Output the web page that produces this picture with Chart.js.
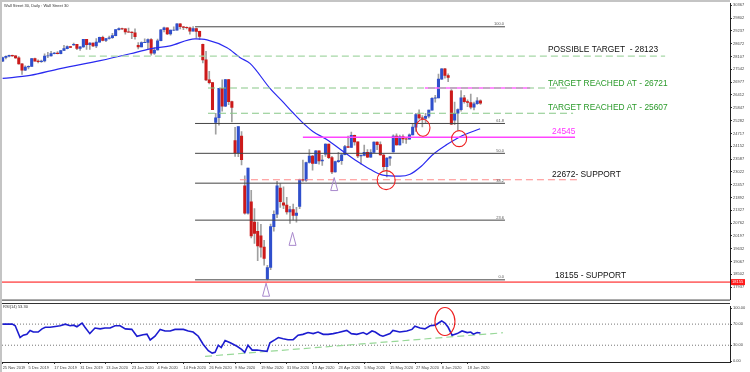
<!DOCTYPE html>
<html>
<head>
<meta charset="utf-8">
<script src="https://cdn.jsdelivr.net/npm/chart.js@4.4.1/dist/chart.umd.min.js"></script>
<style>
  body { margin: 0; background: #fff; width: 750px; height: 372px; overflow: hidden; position: relative; }
  #main { position: absolute; left: 0; top: 0; }
  #rsi { position: absolute; left: 0; top: 303px; }
  .edge { position: absolute; background: #c4c4c4; }
</style>
</head>
<body>
<canvas id="main" width="750" height="303"></canvas>
<canvas id="rsi" width="750" height="69"></canvas>
<div class="edge" style="left:0;top:0;width:730px;height:2px"></div>
<div class="edge" style="left:0;top:0;width:2px;height:372px"></div>
<script>
// daily candles, 25 Nov 2019 .. 24 Jun 2020 (bar index = position on the x axis)
const opens = [27900,28066,28121,28164,28140,28051,27783,27502,27649,27677,28015,27909,27881,27911,28132,28135,28235,28267,28239,28376,
  28455,28551,28620,28645,28462,28538,28868,28634,28703,28583,28745,28956,28823,28907,28939,29030,29297,29348,29330,29196,
  29186,29160,28600,28535,28722,28734,28859,28256,28399,28807,29290,29379,29102,29276,29276,29551,29423,29398,29380,29232,
  29348,29219,28650,27960,27081,26957,25200,25409,26703,25917,27091,26121,24400,23851,24600,22400,21200,21700,20800,20400,
  20200,19700,18300,18800,20600,21150,22300,21650,21550,21250,21350,21100,21500,22680,22654,23434,23719,23390,23950,23505,
  23800,24242,23650,23019,23475,23515,23775,24134,24101,24634,24346,23724,23750,23883,23665,23875,24331,24222,23764,23248,
  23625,23900,24597,24207,24576,24475,24465,24650,24995,25548,25401,25383,25475,25742,26270,26282,27111,27572,27272,26600,
  25300,25606,25763,26290,26120,26080,25871,26025,26156];
const highs = [28090,28140,28175,28170,28150,28110,27800,27700,27700,28030,28040,27960,27950,28230,28290,28340,28300,28330,28380,28600,
  28580,28560,28700,28650,28550,28872,28870,28720,28710,28900,28970,29010,28910,29010,29130,29300,29375,29370,29340,29370,
  29200,29330,28720,28760,28890,28890,28900,28500,28880,29300,29410,29380,29280,29415,29568,29560,29440,29420,29410,29430,
  29370,29230,28660,28340,27460,26970,25600,26710,27080,27100,27100,26140,24990,25020,24800,22840,23190,22200,21400,20800,
  20700,20000,18900,20720,21300,22600,22500,22360,21900,21500,21600,21450,22700,23540,23450,24000,23750,23960,23950,23750,
  24260,24250,23700,23500,23880,23800,24190,24600,24770,24640,24340,23770,24200,24000,24000,24340,24350,24350,23800,23650,
  23700,24650,24700,24640,24650,24500,24700,25150,25600,25760,25500,25600,25750,26300,26400,27340,27580,27590,27350,26650,
  26100,25800,26610,26400,26200,26450,26100,26300,26200];
const lows = [27880,28000,28090,28110,28030,27770,27325,27480,27560,27670,27900,27830,27850,27870,28060,28130,28220,28220,28220,28370,
  28450,28500,28600,28410,28380,28510,28420,28420,28540,28500,28740,28800,28760,28880,28910,29020,29270,29300,29100,29170,
  28900,28870,28440,28530,28720,28440,28170,28200,28390,28800,29200,29070,29050,29250,29270,29330,29300,29330,29100,29230,
  28920,28850,27830,27040,26900,25760,24680,25080,25700,25900,25990,25220,23700,23690,23330,21150,21150,20110,19860,19100,
  19250,18900,18255,18700,20400,21000,21450,21400,21150,20740,20900,20800,21400,22600,22600,23400,23100,23380,23360,23300,
  23700,23600,22940,23010,23440,23350,23770,24100,24100,24200,23650,23360,23720,23650,23660,23870,24000,23760,23100,22800,
  23300,23890,24200,24200,24300,24270,24460,24650,24800,25350,25000,25190,25400,25740,26100,26280,27100,27150,27000,25100,
  25100,24850,25700,26050,25900,25800,25750,26000,26000];
const closes = [28066,28121,28164,28140,28051,27783,27502,27649,27677,28015,27909,27881,27911,28132,28135,28235,28267,28239,28376,28455,
  28551,28515,28645,28462,28538,28868,28634,28703,28583,28745,28956,28823,28907,28939,29030,29297,29348,29330,29196,29186,
  29160,28989,28535,28722,28734,28859,28256,28399,28807,29290,29379,29102,29276,29276,29551,29423,29398,29380,29232,29348,
  29219,28992,27960,27081,26957,25766,25409,26703,25917,27091,26121,25865,23851,25018,23553,21200,23186,20189,20300,19750,
  19700,19200,18800,20600,21150,22400,21700,21550,21250,21350,21100,21200,22680,22654,23434,23719,23390,23950,23505,23538,
  24242,23650,23019,23475,23515,23775,24134,24101,24634,24346,23724,23750,23883,23665,23875,24331,24222,23764,23248,23625,
  23685,24597,24207,24576,24475,24465,24650,24995,25548,25401,25383,25475,25742,26270,26282,27111,27572,27272,27190,25128,
  25606,25763,26290,26120,26080,25871,26025,26156,26050];

// moving average
const maIdx = [0,8.5,17.8,30.2,39.5,45.7,51.9,59.6,63.3,69.5,73.6,76.7,82.8,86.6,90,93,96.2,100.5,105.5,109.8,113.8,117.8,123.1,126.2,129.3,133.3,137.6,141.7,147.9];
const maVal = [27143,27274,27579,27927,28232,28450,28581,28886,28842,28494,28058,27796,26707,26141,25618,25182,24790,24441,23918,23483,23134,22873,22829,22917,23222,23788,24224,24572,24921];

// RSI(14)
const rsiIdx = [0,3,3.9,5.4,6.4,7.5,8.5,9.5,11,12.2,13.2,14.7,16.3,17.8,19.4,20.9,22,23,24.6,25.5,27,28.6,30.2,31.7,33.3,34.8,36.4,38,40,41.6,
  43.5,44.7,45.7,47.2,48.8,50.3,51.9,53.4,56,57.5,59,60.6,62.1,63.7,64.9,65.8,66.8,67.7,68.9,70.5,72.6,74,75,76,77.3,78.8,80.3,81.9,82.8,84.4,
  85.4,86.9,88.4,90,91.5,93,94.6,96.2,97.7,99.3,100.8,102.4,104,106.6,108,109.7,111.7,112.8,114.4,115.4,116.9,117.8,120,120.9,123,125.2,126.8,127.7,129.3,130.8,
  132.4,134,135.5,136,137,138,139.2,140.8,142.3,143.9,145,145.8,147,148];
const rsiVal = [70,70,67,44.6,49,50.6,58,55,55,61,64,64,65.5,67,70,67,68,65,72,64,52,62.5,61,62.5,62.5,67,67,61,60,47,
  50,51,40,47,60,57,57,60,60,57,55,47,32,19.6,15,16.5,30,25.6,38.7,34.5,28,22,16.5,30,20.8,20.8,19.6,18.5,34.5,40.5,
  44.6,42.3,40.5,40.5,49,50.6,54,52,55,50.6,50.6,52,54,58,52,50.6,54,50.6,57,55,49,47,52,58,55,57,60,66,62.5,61,
  67,68,74,76,72,64,49,52,57,54,55,51,54,53.3];
const rsiTrend = [{x: 62.7, y: 8.9}, {x: 155, y: 53.6}];

// axes
const priceTicks = [30367,29802,29237,28672,28107,27542,26977,26412,25847,25282,24717,24152,23587,23022,22457,21892,21327,20762,20197,19632,19067,18502,17937];
const rsiTicks = [0, 30, 70, 100];
const dateTickIdx = [0,8,16,24,32,40,48,56,64,72,80,88,96,104,112,120,128,136,144];
const dateTicks = ['25 Nov 2019','5 Dec 2019','17 Dec 2019','31 Dec 2019','13 Jan 2020','23 Jan 2020','4 Feb 2020','14 Feb 2020',
  '26 Feb 2020','9 Mar 2020','19 Mar 2020','31 Mar 2020','13 Apr 2020','23 Apr 2020','5 May 2020','15 May 2020','27 May 2020','8 Jun 2020','18 Jun 2020'];

// drawn levels
const fibVals = [29422, 25156, 23838, 22521, 20890, 18255];
const fibNames = ['100.0', '61.8', '50.0', '38.2', '23.6', '0.0'];
const fibFrom = 59.6, fibTo = 155.6;
const levelVals = [28123, 26721, 25607, 24545, 22672, 18155];
const levelTexts = ['POSSIBLE TARGET  - 28123', 'TARGET REACHED AT - 26721', 'TARGET REACHED AT - 25607', '24545', '22672- SUPPORT', '18155 - SUPPORT'];

const X_MIN = -0.2, X_MAX = 225.3;
const FONT = '"Liberation Sans", Arial, sans-serif';
Chart.defaults.font.family = FONT;
Chart.defaults.animation = false;

function hline(v, x0, x1, color, width, dash) {
  return {
    type: 'line', data: [{x: x0, y: v}, {x: x1, y: v}],
    borderColor: color, borderWidth: width, borderDash: dash || [],
    pointRadius: 0, order: 1
  };
}

/* ---------- price chart ---------- */
const mainDraw = {
  id: 'mainDraw',
  afterDatasetsDraw(chart) {
    const ctx = chart.ctx, xs = chart.scales.x, ys = chart.scales.y, a = chart.chartArea;
    ctx.save();

    // fib level names
    ctx.font = '4px ' + FONT;
    ctx.fillStyle = '#555';
    ctx.textAlign = 'right';
    ctx.textBaseline = 'bottom';
    fibVals.forEach((v, k) => ctx.fillText(fibNames[k], xs.getPixelForValue(fibTo) - 1, ys.getPixelForValue(v) - 0.5));

    // level notes
    const notes = [
      {i: 168.9, lift: 4.5, color: '#111'},
      {i: 168.9, lift: 1.8, color: '#2a9a2a'},
      {i: 168.9, lift: 3.3, color: '#2a9a2a'},
      {i: 170.2, lift: 3.4, color: '#ff33ff'},
      {i: 170.2, lift: 2.8, color: '#111'},
      {i: 171.1, lift: 4.5, color: '#111'}
    ];
    ctx.font = '8.4px ' + FONT;
    ctx.textAlign = 'left';
    ctx.textBaseline = 'alphabetic';
    notes.forEach((n, k) => {
      ctx.fillStyle = n.color;
      ctx.fillText(levelTexts[k], xs.getPixelForValue(n.i), ys.getPixelForValue(levelVals[k]) - n.lift);
    });

    // red circles
    ctx.strokeStyle = '#ee2020';
    ctx.lineWidth = 1.1;
    [[130.2, 24964, 7, 8.5], [141.4, 24485, 7.5, 8], [118.8, 22655, 9, 9.5]].forEach(c => {
      ctx.beginPath();
      ctx.ellipse(xs.getPixelForValue(c[0]), ys.getPixelForValue(c[1]), c[2], c[3], 0, 0, Math.PI * 2);
      ctx.stroke();
    });

    // purple arrows under the lows
    ctx.strokeStyle = '#a888cc';
    ctx.lineWidth = 1;
    [[102.7, 22459], [89.8, 20041], [81.6, 17797]].forEach(t => {
      const px = xs.getPixelForValue(t[0]), py = ys.getPixelForValue(t[1]);
      ctx.beginPath();
      ctx.moveTo(px, py - 7);
      ctx.lineTo(px + 3.5, py + 6);
      ctx.lineTo(px - 3.5, py + 6);
      ctx.closePath();
      ctx.stroke();
    });

    // price box on the axis
    const ry = ys.getPixelForValue(18155);
    ctx.fillStyle = '#ff1a1a';
    ctx.fillRect(a.right + 1, ry - 3, 14, 6);
    ctx.fillStyle = '#fff';
    ctx.font = '4px ' + FONT;
    ctx.textBaseline = 'middle';
    ctx.fillText('18155', a.right + 2, ry);

    // title
    ctx.fillStyle = '#333';
    ctx.textBaseline = 'alphabetic';
    ctx.fillText('Wall Street 30, Daily : Wall Street 30', 4, 7);

    // panel separator
    ctx.strokeStyle = '#333';
    ctx.beginPath();
    ctx.moveTo(0, a.bottom + 0.5);
    ctx.lineTo(a.right, a.bottom + 0.5);
    ctx.stroke();
    ctx.restore();
  }
};

new Chart(document.getElementById('main'), {
  type: 'bar',
  plugins: [mainDraw],
  data: {
    datasets: [
      {
        data: closes.map((c, i) => ({x: i, y: [lows[i], highs[i]]})),
        backgroundColor: '#a0a0a0', barThickness: 1, grouped: false, order: 11
      },
      {
        data: closes.map((c, i) => ({x: i, y: [opens[i], c]})),
        backgroundColor: closes.map((c, i) => c >= opens[i] ? '#2f4fcc' : '#cc1a1a'),
        barThickness: 2.4, grouped: false, order: 10
      },
      {
        type: 'line', data: maIdx.map((x, k) => ({x: x, y: maVal[k]})),
        borderColor: '#2a2af0', borderWidth: 1.2, pointRadius: 0, cubicInterpolationMode: 'monotone', order: 3
      },
      ...fibVals.map(v => hline(v, fibFrom, fibTo, '#444', 1)),
      hline(levelVals[0], 23.3, 205.2, '#a6d8a6', 1.2, [7, 4]),
      hline(levelVals[1], 63.6, 175.8, '#88c888', 1.2, [7, 4]),
      hline(levelVals[2], 63.6, 176.7, '#88c888', 1.2, [7, 4]),
      hline(levelVals[3], 93, 177.3, '#ff44ff', 1.6),
      hline(levelVals[1], 130.8, 163.4, '#ff66ff', 1.6),
      hline(levelVals[4], 73.5, 177.9, '#ff8a8a', 1.2, [7, 4]),
      hline(levelVals[5], X_MIN, X_MAX, '#ff7070', 1.8)
    ]
  },
  options: {
    responsive: false,
    devicePixelRatio: 1,
    layout: { padding: { left: 2, top: 2, right: 0, bottom: 1 } },
    plugins: { legend: { display: false }, tooltip: { enabled: false } },
    scales: {
      x: { type: 'linear', min: X_MIN, max: X_MAX, offset: false, display: false },
      y: {
        position: 'right', min: 17383, max: 30454,
        afterBuildTicks: s => { s.ticks = priceTicks.map(v => ({value: v})); },
        afterFit: s => { s.width = 20; },
        grid: { drawOnChartArea: false, tickLength: 2, color: '#333' },
        border: { display: true, color: '#222' },
        ticks: { font: { size: 4 }, color: '#444', padding: 1, autoSkip: false, callback: v => String(v) }
      }
    }
  }
});

/* ---------- RSI panel ---------- */
const rsiDraw = {
  id: 'rsiDraw',
  afterDatasetsDraw(chart) {
    const ctx = chart.ctx, xs = chart.scales.x, ys = chart.scales.y;
    ctx.save();
    ctx.font = '4px ' + FONT;
    ctx.fillStyle = '#333';
    ctx.fillText('RSI(14) 53.30', 3, 5);
    ctx.strokeStyle = '#ee2020';
    ctx.lineWidth = 1.1;
    ctx.beginPath();
    ctx.ellipse(xs.getPixelForValue(137), ys.getPixelForValue(75), 10, 14, 0, 0, Math.PI * 2);
    ctx.stroke();
    ctx.strokeStyle = '#333';
    ctx.beginPath();
    ctx.moveTo(0, 0.5);
    ctx.lineTo(chart.chartArea.right, 0.5);
    ctx.stroke();
    ctx.restore();
  }
};

new Chart(document.getElementById('rsi'), {
  type: 'line',
  plugins: [rsiDraw],
  data: {
    datasets: [
      {
        data: rsiIdx.map((x, k) => ({x: x, y: rsiVal[k]})),
        borderColor: '#1c1cd0', borderWidth: 1.6, pointRadius: 0, order: 1
      },
      { data: rsiTrend, borderColor: '#98d898', borderWidth: 1.2, borderDash: [7, 4], pointRadius: 0, order: 2 },
      { data: [{x: X_MIN, y: 70}, {x: X_MAX, y: 70}], borderColor: '#777', borderWidth: 1, borderDash: [1, 2], pointRadius: 0, order: 3 },
      { data: [{x: X_MIN, y: 30}, {x: X_MAX, y: 30}], borderColor: '#777', borderWidth: 1, borderDash: [1, 2], pointRadius: 0, order: 3 }
    ]
  },
  options: {
    responsive: false,
    devicePixelRatio: 1,
    layout: { padding: { left: 2, top: 0, right: 0, bottom: 0 } },
    plugins: { legend: { display: false }, tooltip: { enabled: false } },
    scales: {
      x: {
        type: 'linear', min: X_MIN, max: X_MAX,
        afterBuildTicks: s => { s.ticks = dateTickIdx.map(v => ({value: v})); },
        afterFit: s => { s.height = 10; },
        grid: { drawOnChartArea: false, tickLength: 2, color: '#333' },
        border: { display: true, color: '#222' },
        ticks: {
          font: { size: 4 }, color: '#444', padding: 1, align: 'start', maxRotation: 0, autoSkip: false,
          callback: v => dateTicks[dateTickIdx.indexOf(v)]
        }
      },
      y: {
        position: 'right', min: -1.79, max: 103.57,
        afterBuildTicks: s => { s.ticks = rsiTicks.map(v => ({value: v})); },
        afterFit: s => { s.width = 20; },
        grid: { drawOnChartArea: false, tickLength: 2, color: '#333' },
        border: { display: true, color: '#222' },
        ticks: { font: { size: 4 }, color: '#444', padding: 1, autoSkip: false, callback: v => v.toFixed(2) }
      }
    }
  }
});
</script>
</body>
</html>
